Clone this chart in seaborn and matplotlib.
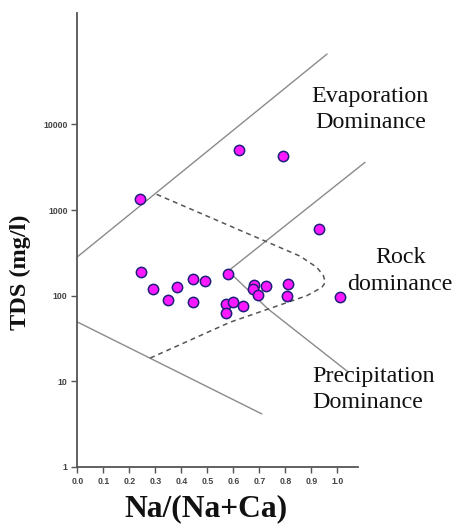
import matplotlib
matplotlib.use("Agg")
import matplotlib.pyplot as plt
import seaborn as sns
import pandas as pd
from matplotlib.ticker import FixedLocator, FixedFormatter, NullLocator

# Sample values: Na/(Na+Ca) ratio and total dissolved solids
na_ratio = [0.24, 0.62, 0.79, 0.93, 0.245, 0.29, 0.35, 0.385, 0.445, 0.49, 0.445,
            0.58, 0.57, 0.60, 0.635, 0.57, 0.68, 0.675, 0.725, 0.695, 0.81, 0.805, 1.01]
tds = [1330, 5000, 4330, 600, 190, 120, 89, 128, 158, 147, 84,
       180, 81, 84, 76, 62, 133, 120, 131, 101, 138, 99, 97]

# Gibbs diagram boundaries
upper_x = [0.0, 0.96]
upper_y = [284, 66400]
inner_x = [1.106, 0.58, 0.733, 1.042]
inner_y = [3615, 194, 70, 12.8]
lower_x = [0.0, 0.709]
lower_y = [49.4, 4.17]
envelope_x = [0.305, 0.856, 0.921, 0.946, 0.953, 0.940, 0.882, 0.587, 0.280]
envelope_y = [1525, 290, 214, 171, 143, 125, 100, 49, 18.7]

x_ticks = [0.0, 0.1, 0.2, 0.3, 0.4, 0.5, 0.6, 0.7, 0.8, 0.9, 1.0]
x_tick_labels = ["0.0", "0.1", "0.2", "0.3", "0.4", "0.5", "0.6", "0.7", "0.8", "0.9", "1.0"]
y_ticks = [1, 10, 100, 1000, 10000]
y_tick_labels = ["1", "10", "100", "1000", "10000"]

sns.set_style("ticks")
plt.rcParams["font.family"] = ["Liberation Serif", "DejaVu Serif"]

fig = plt.figure(figsize=(4.55, 5.24), dpi=100)
ax = fig.add_axes([77.3 / 455, 57 / 524, 281 / 455, 454 / 524])
ax.set_yscale("log")

line_kw = dict(color="#8a8a8a", linewidth=1.0, sort=False, estimator=None, ax=ax, legend=False)
sns.lineplot(x=upper_x, y=upper_y, **line_kw)
sns.lineplot(x=inner_x, y=inner_y, **line_kw)
sns.lineplot(x=lower_x, y=lower_y, **line_kw)
env = sns.lineplot(x=envelope_x, y=envelope_y, color="#555555", linewidth=1.1,
                   sort=False, estimator=None, ax=ax, legend=False)
env.lines[-1].set_dashes([3.2, 2.6])
for ln in ax.lines:
    ln.set_clip_on(False)

df = pd.DataFrame({"ratio": na_ratio, "tds": tds})
sns.scatterplot(data=df, x="ratio", y="tds", s=55, color="#ff19ff",
                edgecolor="#1f1f7a", linewidth=1.1, ax=ax, zorder=5, clip_on=False)

ax.set_xlim(0, 1.08)
ax.set_ylim(1, 2e5)
ax.xaxis.set_major_locator(FixedLocator(x_ticks))
ax.xaxis.set_major_formatter(FixedFormatter(x_tick_labels))
ax.yaxis.set_major_locator(FixedLocator(y_ticks))
ax.yaxis.set_major_formatter(FixedFormatter(y_tick_labels))
ax.yaxis.set_minor_locator(NullLocator())

for lab in ax.get_xticklabels() + ax.get_yticklabels():
    lab.set_fontfamily(["Liberation Sans", "DejaVu Sans"])
    lab.set_fontweight("bold")
    lab.set_fontsize(6.3)
    lab.set_color("#444444")
ax.tick_params(axis="both", direction="out", length=4, width=1.0, color="#555555", pad=3)

sns.despine(ax=ax)
for side in ("left", "bottom"):
    ax.spines[side].set_color("#555555")
    ax.spines[side].set_linewidth(1.3)

ax.set_xlabel("")
ax.set_ylabel("")
fig.text(206 / 455, (524 - 516.7) / 524, "Na/(Na+Ca)", ha="center", va="baseline",
         fontsize=22.7, fontweight="bold", color="#111111")
fig.text(26 / 455, (524 - 272.5) / 524, "TDS (mg/l)", ha="center", va="baseline",
         rotation=90, rotation_mode="anchor", fontsize=17.5, fontweight="bold", color="#111111")

txt_kw = dict(fontsize=17.3, color="#111111", clip_on=False, linespacing=1.33)
ax.text(1.126, 14800, "Evaporation\nDominance", ha="center", va="center",
        multialignment="center", **txt_kw)
ax.text(1.241, 194, "Rock\ndominance", ha="center", va="center",
        multialignment="center", **txt_kw)
ax.text(0.903, 8.0, "Precipitation\nDominance", ha="left", va="center",
        multialignment="left", **txt_kw)

fig.savefig("out.png", dpi=100)
